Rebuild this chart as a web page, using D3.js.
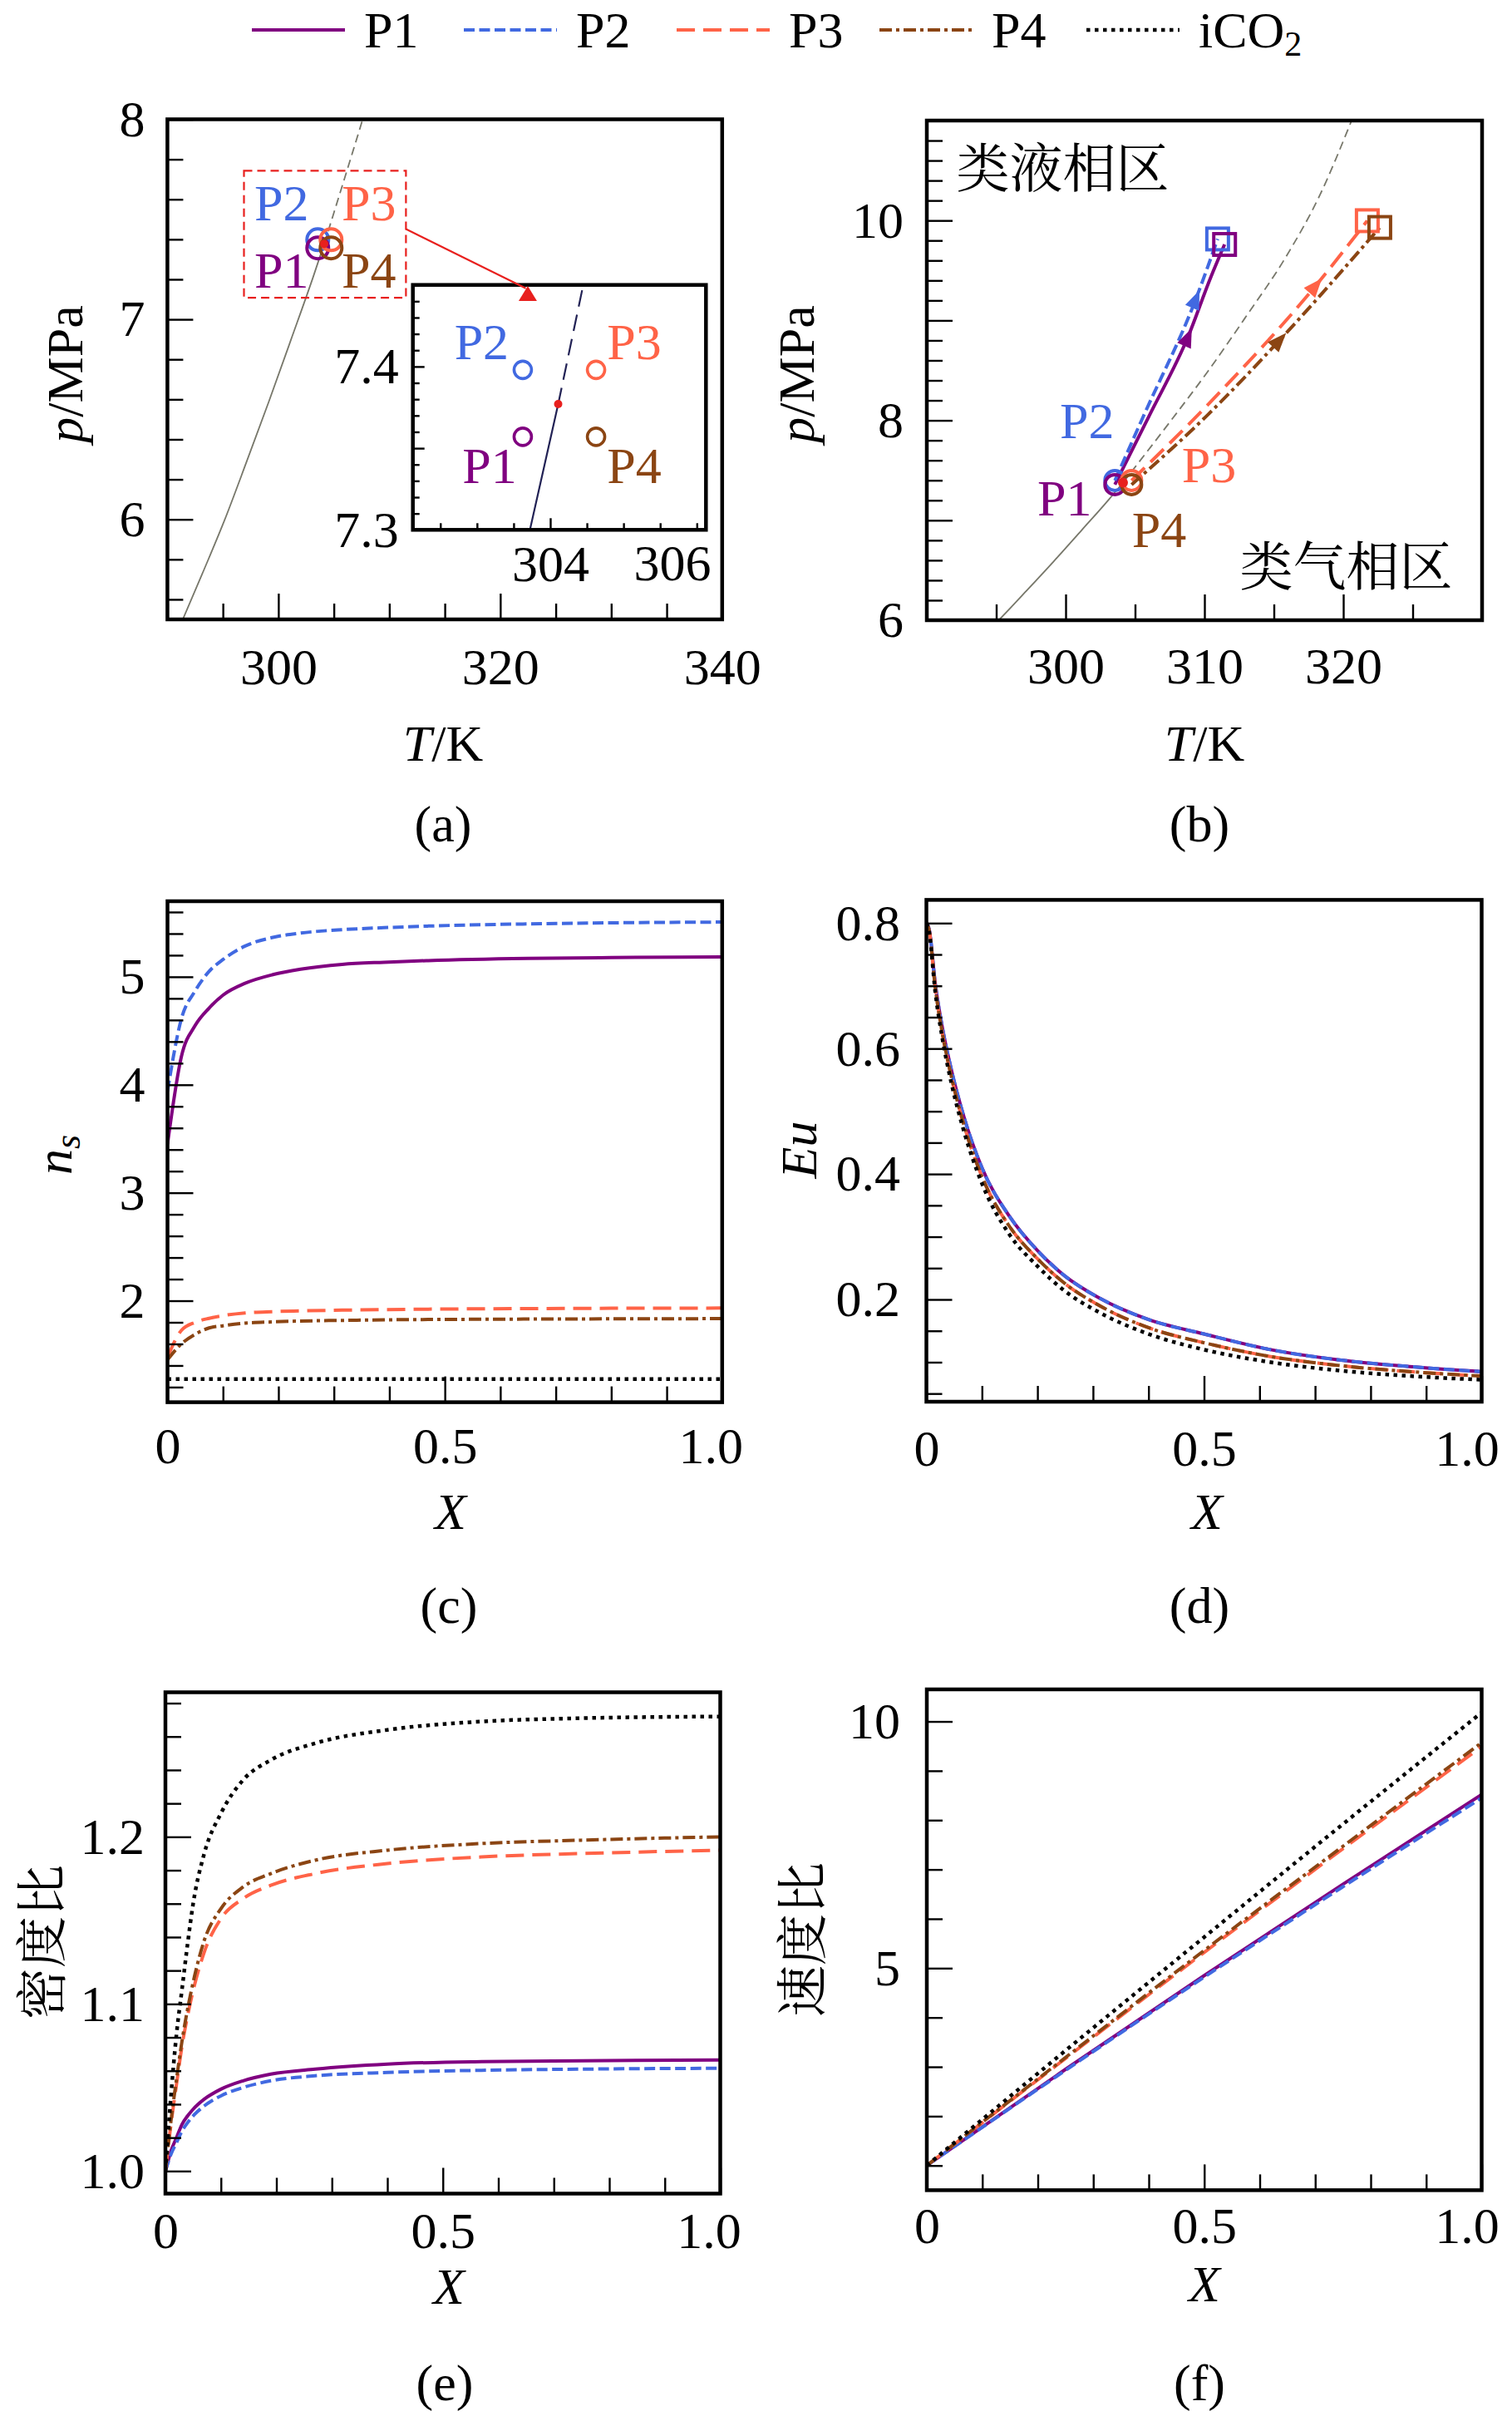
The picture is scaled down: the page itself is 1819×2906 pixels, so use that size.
<!DOCTYPE html>
<html>
<head>
<meta charset="utf-8">
<script src="https://cdn.jsdelivr.net/npm/d3@7"></script>
<style>
  body { margin: 0; background: #fff; }
</style>
</head>
<body>
<svg id="fig" width="1819" height="2906"></svg>
<script>
// ---------- data ----------
var seriesNames = ["P1", "P2", "P3", "P4", "iCO2"];

// state points (T in K, p in MPa)
var stateT = [303.55, 303.55, 304.75, 304.75];
var stateP = [7.357, 7.398, 7.398, 7.357];
var critT = [304.13];
var critP = [7.377];

// saturation line and its continuation above the critical point
var satT = [291.15, 293.15, 295.15, 297.15, 299.15, 301.15, 303.15, 304.13];
var satP = [5.469, 5.729, 5.996, 6.29, 6.59, 6.90, 7.214, 7.377];
var widomT = [304.13, 307.6, 310.3, 313.0, 315.8, 318.3, 320.6];
var widomP = [7.377, 8.00, 8.50, 9.04, 9.62, 10.25, 11.0];

// (b) compression paths, start -> end
var pathT1 = [303.55, 306.0, 308.8, 310.45, 311.45];
var pathP1 = [7.357, 8.04, 8.83, 9.43, 9.76];
var pathT2 = [303.55, 305.6, 309.37, 310.95];
var pathP2 = [7.398, 8.04, 9.21, 9.815];
var pathT3 = [304.75, 310.2, 318.0, 321.73];
var pathP3 = [7.398, 8.15, 9.345, 9.998];
var pathT4 = [304.75, 310.2, 315.4, 322.63];
var pathP4 = [7.357, 8.05, 8.80, 9.93];
var endT = [311.45, 310.95, 321.73, 322.63];
var endP = [9.76, 9.815, 9.998, 9.93];

// (c) n_s
var nsX = [0, 0.025, 0.05, 0.075, 0.1, 0.14, 0.19, 0.24, 0.315, 0.39, 0.47, 0.65, 0.8, 1.0];
var nsP1 = [3.45, 4.26, 4.55, 4.71, 4.83, 4.94, 5.02, 5.07, 5.115, 5.135, 5.15, 5.17, 5.178, 5.184];
var nsP2 = [3.94, 4.61, 4.87, 5.05, 5.16, 5.285, 5.365, 5.405, 5.437, 5.455, 5.47, 5.49, 5.50, 5.507];
var nsP3 = [1.476, 1.725, 1.80, 1.837, 1.862, 1.887, 1.899, 1.906, 1.913, 1.918, 1.922, 1.927, 1.93, 1.932];
var nsP4 = [1.453, 1.60, 1.69, 1.748, 1.768, 1.792, 1.804, 1.812, 1.818, 1.823, 1.826, 1.83, 1.832, 1.834];
var nsIX = [0, 1.0];
var nsI = [1.275, 1.275];

// (d) Eu
var euX = [0, 0.005, 0.016, 0.028, 0.045, 0.068, 0.10, 0.15, 0.20, 0.25, 0.31, 0.40, 0.50, 0.62, 0.74, 0.87, 1.0];
var euP1 = [0.80, 0.79, 0.703, 0.637, 0.566, 0.49, 0.41, 0.332, 0.278, 0.237, 0.203, 0.168, 0.145, 0.12, 0.104, 0.093, 0.085];
var euP2 = [0.80, 0.79, 0.703, 0.637, 0.566, 0.49, 0.41, 0.332, 0.278, 0.237, 0.203, 0.168, 0.145, 0.12, 0.104, 0.093, 0.085];
var euP3 = [0.80, 0.788, 0.697, 0.628, 0.555, 0.477, 0.396, 0.316, 0.265, 0.225, 0.191, 0.155, 0.131, 0.109, 0.095, 0.085, 0.078];
var euP4 = [0.80, 0.788, 0.697, 0.628, 0.555, 0.477, 0.396, 0.316, 0.265, 0.225, 0.191, 0.155, 0.131, 0.109, 0.095, 0.085, 0.078];
var euI = [0.80, 0.785, 0.69, 0.62, 0.545, 0.467, 0.385, 0.303, 0.253, 0.213, 0.18, 0.145, 0.12, 0.10, 0.087, 0.078, 0.072];

// (e) density ratio
var rhoX = [0, 0.01, 0.02, 0.03, 0.04, 0.05, 0.07, 0.1, 0.14, 0.19, 0.27, 0.4, 0.57, 0.75, 1.0];
var rhoP1 = [1.0, 1.012, 1.02, 1.028, 1.033, 1.037, 1.043, 1.049, 1.054, 1.058, 1.061, 1.064, 1.0655, 1.066, 1.0665];
var rhoP2 = [1.0, 1.01, 1.017, 1.024, 1.029, 1.033, 1.039, 1.045, 1.05, 1.054, 1.057, 1.059, 1.0603, 1.061, 1.0615];
var rhoP3 = [1.0, 1.028, 1.052, 1.075, 1.093, 1.108, 1.131, 1.151, 1.163, 1.171, 1.178, 1.184, 1.188, 1.19, 1.192];
var rhoP4 = [1.0, 1.03, 1.055, 1.078, 1.097, 1.113, 1.138, 1.157, 1.17, 1.178, 1.186, 1.192, 1.196, 1.198, 1.2];
var rhoI = [1.0, 1.045, 1.082, 1.109, 1.136, 1.16, 1.19, 1.214, 1.234, 1.246, 1.256, 1.264, 1.269, 1.271, 1.272];

// (f) velocity ratio
var velX = [0, 0.25, 0.5, 0.75, 1.0];
var velP1 = [1.0, 2.95, 4.85, 6.7, 8.52];
var velP2 = [1.0, 2.93, 4.82, 6.65, 8.45];
var velP3 = [1.0, 3.17, 5.32, 7.42, 9.49];
var velP4 = [1.0, 3.19, 5.36, 7.47, 9.57];
var velI = [1.0, 3.33, 5.63, 7.92, 10.18];

// ---------- styles ----------
var FONT = '"Liberation Serif", "Times New Roman", serif';
var CJK = '"Noto Serif CJK SC", "Noto Sans CJK SC", sans-serif';
var FS = 62;
var styles = [
  { color: "#800080", dash: null, width: 4 },
  { color: "#4169e1", dash: "13,5.5", width: 4 },
  { color: "#ff6347", dash: "22,10", width: 4 },
  { color: "#8b4513", dash: "15,5,4,5", width: 4 },
  { color: "#000000", dash: "4.5,5.5", width: 4.5 }
];

var svg = d3.select("#fig");

function ticksBy(a, b, step) {
  var i0 = Math.ceil(a / step - 1e-6), i1 = Math.floor(b / step + 1e-6);
  return d3.range(i0, i1 + 1).map(i => +(i * step).toFixed(6));
}
function has(arr, v) { return arr.some(m => Math.abs(m - v) < 1e-6); }

function makePanel(c) {
  var W = c.right - c.left, H = c.bottom - c.top;
  var g = svg.append("g").attr("transform", "translate(" + c.left + "," + c.top + ")");
  var x = d3.scaleLinear().domain(c.xDomain).range([0, W]);
  var y = d3.scaleLinear().domain(c.yDomain).range([H, 0]);
  g.append("clipPath").attr("id", "clip-" + c.id)
    .append("rect").attr("width", W).attr("height", H);
  if (c.bg) g.append("rect").attr("width", W).attr("height", H).attr("fill", c.bg);
  var plot = g.append("g").attr("clip-path", "url(#clip-" + c.id + ")");
  var axes = g.append("g");
  var major = c.major || 31, minor = c.minor || 19;
  var xl = c.xLabels || c.xMajor, yl = c.yLabels || c.yMajor;

  axes.append("g").attr("transform", "translate(0," + H + ")")
    .call(d3.axisBottom(x).tickValues(c.xMinor.filter(v => !has(c.xMajor, v)))
      .tickSize(-minor).tickFormat(""));
  var xAx = axes.append("g").attr("transform", "translate(0," + H + ")")
    .call(d3.axisBottom(x).tickValues(c.xMajor).tickSize(-major).tickPadding(c.xPad)
      .tickFormat(d => has(xl, d) ? c.xFmt(d) : ""));
  axes.append("g")
    .call(d3.axisLeft(y).tickValues(c.yMinor.filter(v => !has(c.yMajor, v)))
      .tickSize(-minor).tickFormat(""));
  axes.append("g")
    .call(d3.axisLeft(y).tickValues(c.yMajor).tickSize(-major).tickPadding(c.yPad)
      .tickFormat(d => has(yl, d) ? c.yFmt(d) : ""));

  axes.selectAll(".domain").remove();
  axes.selectAll("line").attr("stroke", "#000").attr("stroke-width", 2.4);
  axes.selectAll("text").attr("font-family", FONT).attr("font-size", FS).attr("fill", "#000");
  // the last x label sits a little left of its tick, as in the original
  if (c.lastDx) {
    xAx.selectAll(".tick text").filter(d => d === c.xDomain[1]).attr("dx", c.lastDx);
  }

  g.append("rect").attr("width", W).attr("height", H)
    .attr("fill", "none").attr("stroke", "#000").attr("stroke-width", 4.5);

  return { g: g, plot: plot, x: x, y: y, W: W, H: H };
}

function lineGen(p, curve) {
  return d3.line().x(d => p.x(d[0])).y(d => p.y(d[1])).curve(curve || d3.curveMonotoneX);
}

function drawSeries(p, xs, ys, st, curve) {
  p.plot.append("path")
    .datum(xs.map((v, i) => [v, ys[i]]))
    .attr("fill", "none")
    .attr("stroke", st.color)
    .attr("stroke-width", st.width)
    .attr("stroke-dasharray", st.dash)
    .attr("d", lineGen(p, curve));
}

var fmtX = d => d === 0 ? "0" : d3.format(".1f")(d);
var fmtInt = d3.format("d");
var fmt1 = d3.format(".1f");

function addText(parent, x, y, txt, opt) {
  opt = opt || {};
  var t = parent.append("text")
    .attr("x", x).attr("y", y)
    .attr("font-family", opt.cjk ? CJK : FONT)
    .attr("font-size", opt.size || FS)
    .attr("fill", opt.color || "#000")
    .attr("text-anchor", opt.anchor || "start");
  if (opt.baseline) t.attr("dominant-baseline", opt.baseline);
  if (opt.rotate) t.attr("transform", "rotate(-90," + x + "," + y + ")");
  if (Array.isArray(txt)) {
    txt.forEach(function(s) {
      var ts = t.append("tspan").text(s.t);
      if (s.i) ts.attr("font-style", "italic");
      if (s.size) ts.attr("font-size", s.size);
      if (s.dy) ts.attr("dy", s.dy);
    });
  } else {
    t.text(txt);
  }
  return t;
}

// ---------- legend ----------
var legendX = [303, 558, 814, 1058, 1307];
var legend = svg.append("g");
seriesNames.forEach(function(name, i) {
  var st = styles[i];
  legend.append("line")
    .attr("x1", legendX[i]).attr("x2", legendX[i] + 112)
    .attr("y1", 36).attr("y2", 36)
    .attr("stroke", st.color).attr("stroke-width", st.width)
    .attr("stroke-dasharray", st.dash);
  if (name === "iCO2") {
    addText(legend, legendX[i] + 135, 57, [{ t: "iCO" }, { t: "2", size: 42, dy: 10 }]);
  } else {
    addText(legend, legendX[i] + 135, 57, name);
  }
});

// ---------- (a) ----------
var pa = makePanel({
  id: "a", left: 201.4, right: 868.8, top: 143.5, bottom: 745,
  xDomain: [290, 340], yDomain: [5.5, 8],
  xMajor: [300, 320, 340], xMinor: ticksBy(290, 340, 5),
  yMajor: [6, 7, 8], yMinor: ticksBy(5.5, 8, 0.2),
  xPad: 34, yPad: 27, xFmt: fmtInt, yFmt: fmtInt
});

function drawSat(p, color, width, dash) {
  drawSeries(p, satT, satP, { color: color, width: width, dash: null });
  drawSeries(p, widomT, widomP, { color: color, width: width, dash: dash });
}
drawSat(pa, "#77776a", 1.8, "10,6");

function drawStates(p, r, sw) {
  [1, 0, 2, 3].forEach(function(i) {
    p.plot.append("circle")
      .attr("cx", p.x(stateT[i])).attr("cy", p.y(stateP[i])).attr("r", r)
      .attr("fill", "none").attr("stroke", styles[i].color).attr("stroke-width", sw);
  });
}
drawStates(pa, 13, 4);
pa.plot.append("circle").attr("cx", pa.x(critT[0])).attr("cy", pa.y(critP[0]))
  .attr("r", 5).attr("fill", "#e8201e");

// zoom box
pa.g.append("rect")
  .attr("x", pa.x(296.9)).attr("y", pa.y(7.743))
  .attr("width", pa.x(311.5) - pa.x(296.9)).attr("height", pa.y(7.108) - pa.y(7.743))
  .attr("fill", "none").attr("stroke", "#e8201e").attr("stroke-width", 2.2)
  .attr("stroke-dasharray", "10,6");

var labelA = [[297.84, 7.160], [297.84, 7.496], [305.70, 7.496], [305.70, 7.160]];
labelA.forEach(function(d, i) {
  addText(pa.g, pa.x(d[0]), pa.y(d[1]), seriesNames[i], { color: styles[i].color });
});

addText(svg, 99, 450, [{ t: "p", i: true }, { t: "/MPa" }], { anchor: "middle", rotate: true });
addText(svg, 533, 915, [{ t: "T", i: true }, { t: "/K" }], { anchor: "middle" });
addText(svg, 533, 1012, "(a)", { anchor: "middle" });

// inset
var pin = makePanel({
  id: "inset", left: 496.7, right: 849.3, top: 342.7, bottom: 637.3, bg: "#fff",
  xDomain: [301.75, 306.55], yDomain: [7.3, 7.45],
  major: 14, minor: 8,
  xMajor: [304], xMinor: [302.2, 302.8, 303.4, 304.6, 305.2, 305.8, 306.4],
  yMajor: [7.3, 7.35, 7.4], yLabels: [7.3, 7.4], yMinor: ticksBy(7.3, 7.45, 0.01),
  xPad: 18, yPad: 17, xFmt: fmtInt, yFmt: fmt1
});
addText(pin.g, pin.x(306), pin.H + 61, "306", { anchor: "middle" });
drawSat(pin, "#222255", 2.2, "20,10");
drawStates(pin, 10.5, 3.6);
pin.plot.append("circle").attr("cx", pin.x(critT[0])).attr("cy", pin.y(critP[0]))
  .attr("r", 5).attr("fill", "#e8201e");
var labelIn = [[302.56, 7.3288], [302.43, 7.4047], [304.93, 7.4047], [304.93, 7.3288]];
labelIn.forEach(function(d, i) {
  addText(pin.g, pin.x(d[0]), pin.y(d[1]), seriesNames[i], { color: styles[i].color });
});

// arrow from the zoom box to the inset, in a layer above the inset
var overlay = svg.append("g").attr("transform", "translate(201.4,143.5)");
overlay.append("line")
  .attr("x1", pa.x(311.5)).attr("y1", pa.y(7.451))
  .attr("x2", pa.x(322.3)).attr("y2", pa.y(7.155))
  .attr("stroke", "#e8201e").attr("stroke-width", 2.2);
overlay.append("path")
  .attr("transform", "translate(" + pa.x(322.48) + "," + pa.y(7.121) + ")")
  .attr("d", "M0,-11 L11,7 L-11,7 Z")
  .attr("fill", "#e8201e");

// ---------- (b) ----------
var pb = makePanel({
  id: "b", left: 1115, right: 1783, top: 145, bottom: 746,
  xDomain: [290, 330], yDomain: [6, 11],
  xMajor: [300, 310, 320], xMinor: ticksBy(290, 330, 5),
  yMajor: [6, 7, 8, 9, 10, 11], yLabels: [6, 8, 10], yMinor: ticksBy(6, 11, 0.2),
  xPad: 32, yPad: 28, xFmt: fmtInt, yFmt: fmtInt
});
drawSat(pb, "#77776a", 1.8, "10,6");

var pathsT = [pathT1, pathT2, pathT3, pathT4];
var pathsP = [pathP1, pathP2, pathP3, pathP4];
pathsT.forEach(function(ts, i) {
  drawSeries(pb, ts, pathsP[i], styles[i]);
});
drawStates(pb, 12, 4);
pb.plot.append("circle").attr("cx", pb.x(critT[0])).attr("cy", pb.y(critP[0]))
  .attr("r", 6).attr("fill", "#e8201e");
[1, 0, 2, 3].forEach(function(i) {
  pb.plot.append("rect")
    .attr("x", pb.x(endT[i]) - 13).attr("y", pb.y(endP[i]) - 13)
    .attr("width", 26).attr("height", 26)
    .attr("fill", "none").attr("stroke", styles[i].color).attr("stroke-width", 4);
});
// direction arrows on each path
pathsT.forEach(function(ts, i) {
  var ps = pathsP[i], k = 2;
  var x0 = pb.x(ts[k - 1]), y0 = pb.y(ps[k - 1]);
  var x1 = pb.x(ts[k + 1]), y1 = pb.y(ps[k + 1]);
  var ang = Math.atan2(y1 - y0, x1 - x0) * 180 / Math.PI;
  pb.plot.append("path")
    .attr("transform", "translate(" + pb.x(ts[k]) + "," + pb.y(ps[k]) + ") rotate(" + ang + ")")
    .attr("d", "M12,0 L-11,-9 L-11,9 Z")
    .attr("fill", styles[i].color);
});
var labelB = [[297.96, 7.048], [299.58, 7.824], [308.37, 7.381], [304.77, 6.73]];
labelB.forEach(function(d, i) {
  addText(pb.g, pb.x(d[0]), pb.y(d[1]), seriesNames[i], { color: styles[i].color });
});
addText(pb.g, pb.x(292.13), pb.y(10.567), "类液相区", { cjk: true, size: 64, baseline: "central" });
addText(pb.g, pb.x(312.54), pb.y(6.582), "类气相区", { cjk: true, size: 64, baseline: "central" });

addText(svg, 979, 450, [{ t: "p", i: true }, { t: "/MPa" }], { anchor: "middle", rotate: true });
addText(svg, 1449, 915, [{ t: "T", i: true }, { t: "/K" }], { anchor: "middle" });
addText(svg, 1443, 1012, "(b)", { anchor: "middle" });

// ---------- (c) ----------
var pc = makePanel({
  id: "c", left: 201.5, right: 868.8, top: 1084, bottom: 1686.6,
  xDomain: [0, 1], yDomain: [1.06, 5.7],
  xMajor: [0, 0.5, 1], xMinor: ticksBy(0, 1, 0.1),
  yMajor: [2, 3, 4, 5], yMinor: ticksBy(1.06, 5.7, 0.2),
  xPad: 29, yPad: 27, xFmt: fmtX, yFmt: fmtInt, lastDx: -14
});
drawSeries(pc, nsX, nsP1, styles[0]);
drawSeries(pc, nsX, nsP2, styles[1]);
drawSeries(pc, nsX, nsP3, styles[2]);
drawSeries(pc, nsX, nsP4, styles[3]);
drawSeries(pc, nsIX, nsI, styles[4]);
addText(svg, 86, 1389, [{ t: "n", i: true }, { t: "s", i: true, size: 44, dy: 10 }], { anchor: "middle", rotate: true });
addText(svg, 542, 1839, [{ t: "X", i: true }], { anchor: "middle" });
addText(svg, 540, 1952, "(c)", { anchor: "middle" });

// ---------- (d) ----------
var pd = makePanel({
  id: "d", left: 1114.5, right: 1782.5, top: 1082.4, bottom: 1686,
  xDomain: [0, 1], yDomain: [0.037, 0.837],
  xMajor: [0, 0.5, 1], xMinor: ticksBy(0, 1, 0.1),
  yMajor: [0.2, 0.4, 0.6, 0.8], yMinor: ticksBy(0.037, 0.837, 0.05),
  xPad: 33, yPad: 31.5, xFmt: fmtX, yFmt: fmt1, lastDx: -18
});
drawSeries(pd, euX, euP1, styles[0]);
drawSeries(pd, euX, euP2, styles[1]);
drawSeries(pd, euX, euP3, styles[2]);
drawSeries(pd, euX, euP4, styles[3]);
drawSeries(pd, euX, euI, styles[4]);
addText(svg, 982, 1383, [{ t: "Eu", i: true }], { anchor: "middle", rotate: true });
addText(svg, 1452, 1839, [{ t: "X", i: true }], { anchor: "middle" });
addText(svg, 1443, 1952, "(d)", { anchor: "middle" });

// ---------- (e) ----------
var pe = makePanel({
  id: "e", left: 199, right: 866.5, top: 2035.5, bottom: 2638.5,
  xDomain: [0, 1], yDomain: [0.9865, 1.2865],
  xMajor: [0, 0.5, 1], xMinor: ticksBy(0, 1, 0.1),
  yMajor: [1.0, 1.1, 1.2], yMinor: ticksBy(0.9865, 1.2865, 0.02),
  xPad: 21, yPad: 25, xFmt: fmtX, yFmt: fmt1, lastDx: -14
});
drawSeries(pe, rhoX, rhoP1, styles[0]);
drawSeries(pe, rhoX, rhoP2, styles[1]);
drawSeries(pe, rhoX, rhoP3, styles[2]);
drawSeries(pe, rhoX, rhoP4, styles[3]);
drawSeries(pe, rhoX, rhoI, styles[4]);
addText(svg, 46, 2336, "密度比", { anchor: "middle", rotate: true, cjk: true, size: 62, baseline: "central" });
addText(svg, 540, 2771, [{ t: "X", i: true }], { anchor: "middle" });
addText(svg, 535, 2887, "(e)", { anchor: "middle" });

// ---------- (f) ----------
var pf = makePanel({
  id: "f", left: 1115, right: 1782.5, top: 2032, bottom: 2634.4,
  xDomain: [0, 1], yDomain: [0.5, 10.65],
  xMajor: [0, 0.5, 1], xMinor: ticksBy(0, 1, 0.1),
  yMajor: [5, 10], yMinor: ticksBy(0.5, 10.65, 1),
  xPad: 20, yPad: 32, xFmt: fmtX, yFmt: fmtInt, lastDx: -18
});
drawSeries(pf, velX, velP1, styles[0]);
drawSeries(pf, velX, velP2, styles[1]);
drawSeries(pf, velX, velP3, styles[2]);
drawSeries(pf, velX, velP4, styles[3]);
drawSeries(pf, velX, velI, styles[4]);
addText(svg, 961, 2333, "速度比", { anchor: "middle", rotate: true, cjk: true, size: 62, baseline: "central" });
addText(svg, 1449, 2768, [{ t: "X", i: true }], { anchor: "middle" });
addText(svg, 1443, 2887, "(f)", { anchor: "middle" });
</script>
</body>
</html>
